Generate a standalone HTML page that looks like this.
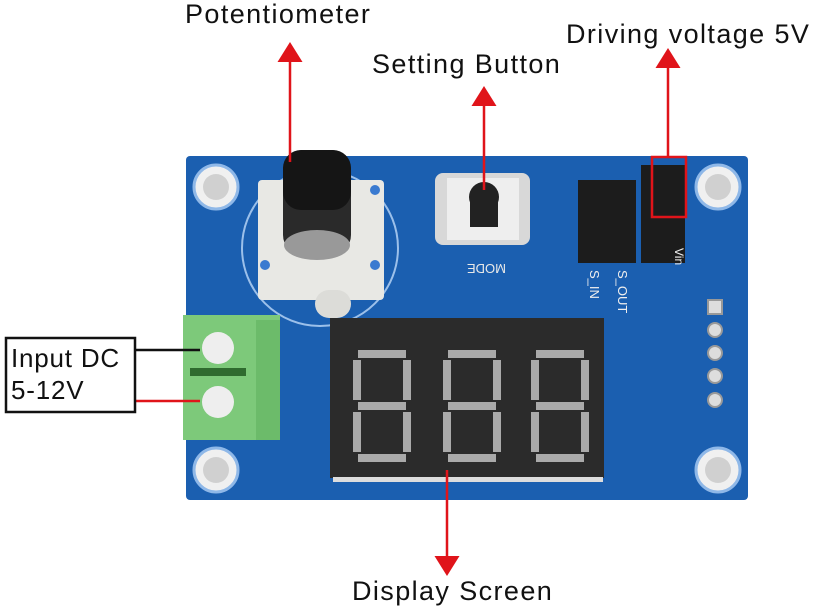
<!DOCTYPE html>
<html><head><style>
body{margin:0;width:816px;height:613px;background:#fff;overflow:hidden;position:relative;font-family:"Liberation Sans",sans-serif}
.t{position:absolute;font-size:27px;letter-spacing:1.4px;color:#111;white-space:nowrap}
</style></head><body>
<svg width="816" height="613" style="position:absolute;left:0;top:0">
<defs>
<marker id="a" markerWidth="8" markerHeight="10" refX="4" refY="5" orient="auto"><path d="M0,0 L8,5 L0,10 z" fill="#e0141a"/></marker>
</defs>
<rect x="186" y="156" width="562" height="344" rx="4" fill="#1b5fb0"/>
<g fill="#f0f0f0" stroke="#8fb8e8" stroke-width="3">
<circle cx="216" cy="187" r="22"/><circle cx="718" cy="187" r="22"/>
<circle cx="216" cy="470" r="22"/><circle cx="718" cy="470" r="22"/>
</g>
<g fill="#d0d0d0"><circle cx="216" cy="187" r="13"/><circle cx="718" cy="187" r="13"/><circle cx="216" cy="470" r="13"/><circle cx="718" cy="470" r="13"/></g>
<circle cx="320" cy="248" r="78" fill="none" stroke="#9cc0ea" stroke-width="2"/>
<rect x="258" y="180" width="126" height="120" fill="#e8e8e4" rx="4"/>
<rect x="315" y="290" width="36" height="28" rx="14" fill="#dcdcd8"/>
<circle cx="265" cy="265" r="5" fill="#3a7ad0"/><circle cx="375" cy="265" r="5" fill="#3a7ad0"/><circle cx="375" cy="190" r="5" fill="#3a7ad0"/>
<rect x="283" y="150" width="68" height="105" rx="20" fill="#2a2a2a"/>
<ellipse cx="317" cy="245" rx="33" ry="15" fill="#999"/>
<rect x="283" y="150" width="68" height="60" rx="18" fill="#151515"/>
<rect x="435" y="173" width="95" height="72" rx="8" fill="#d8d8d8"/>
<rect x="447" y="178" width="72" height="62" fill="#eee"/>
<circle cx="484" cy="197" r="15" fill="#222"/>
<rect x="470" y="197" width="28" height="30" fill="#222"/>
<text x="458" y="272" font-size="13" fill="#e8e8e8" transform="rotate(180 482 268)">MODE</text>
<rect x="578" y="180" width="58" height="83" fill="#1c1c1c"/>
<rect x="641" y="165" width="44" height="98" fill="#1c1c1c"/>
<rect x="652" y="157" width="34" height="60" fill="none" stroke="#e0141a" stroke-width="2.5"/>
<text x="590" y="270" font-size="13" fill="#eee" transform="rotate(90 590 270)">S_IN</text>
<text x="618" y="270" font-size="13" fill="#eee" transform="rotate(90 618 270)">S_OUT</text>
<text x="675" y="248" font-size="12" fill="#eee" transform="rotate(90 675 248)">Vin</text>
<g fill="#ddd" stroke="#999" stroke-width="2"><rect x="708" y="300" width="14" height="14"/><circle cx="715" cy="330" r="7"/><circle cx="715" cy="353" r="7"/><circle cx="715" cy="376" r="7"/><circle cx="715" cy="400" r="7"/></g>
<rect x="183" y="315" width="97" height="125" fill="#7dc97a"/>
<rect x="256" y="320" width="24" height="120" fill="#6cbb6a"/>
<circle cx="218" cy="348" r="16" fill="#eee"/><circle cx="218" cy="402" r="16" fill="#eee"/>
<rect x="190" y="368" width="56" height="8" fill="#2f6b2f"/>
<rect x="330" y="318" width="274" height="160" fill="#2b2b2b"/>
<rect x="333" y="477" width="270" height="5" fill="#ddd"/>
<g fill="#aaa">
<g id="d"><rect x="358" y="350" width="48" height="8"/><rect x="353" y="360" width="8" height="40"/><rect x="403" y="360" width="8" height="40"/><rect x="358" y="402" width="48" height="8"/><rect x="353" y="412" width="8" height="40"/><rect x="403" y="412" width="8" height="40"/><rect x="358" y="454" width="48" height="8"/></g>
<use href="#d" x="90"/><use href="#d" x="178"/>
</g>
<g stroke="#e0141a" stroke-width="2.5" fill="none">
<line x1="290" y1="162" x2="290" y2="52" marker-end="url(#a)"/>
<line x1="484" y1="190" x2="484" y2="96" marker-end="url(#a)"/>
<line x1="668" y1="157" x2="668" y2="58" marker-end="url(#a)"/>
<line x1="447" y1="470" x2="447" y2="566" marker-end="url(#a)"/>
<line x1="135" y1="401" x2="200" y2="401"/>
</g>
<line x1="135" y1="350" x2="200" y2="350" stroke="#111" stroke-width="2.5"/>
<rect x="6" y="338" width="129" height="74" fill="#fff" stroke="#111" stroke-width="2.5"/>
</svg>
<div class="t" style="left:185px;top:-1px">Potentiometer</div>
<div class="t" style="left:372px;top:49px">Setting Button</div>
<div class="t" style="left:566px;top:19px">Driving voltage 5V</div>
<div class="t" style="left:352px;top:576px">Display Screen</div>
<div class="t" style="left:11px;top:342px;line-height:32px;font-size:26px;letter-spacing:0.8px">Input DC<br>5-12V</div>
</body></html>
